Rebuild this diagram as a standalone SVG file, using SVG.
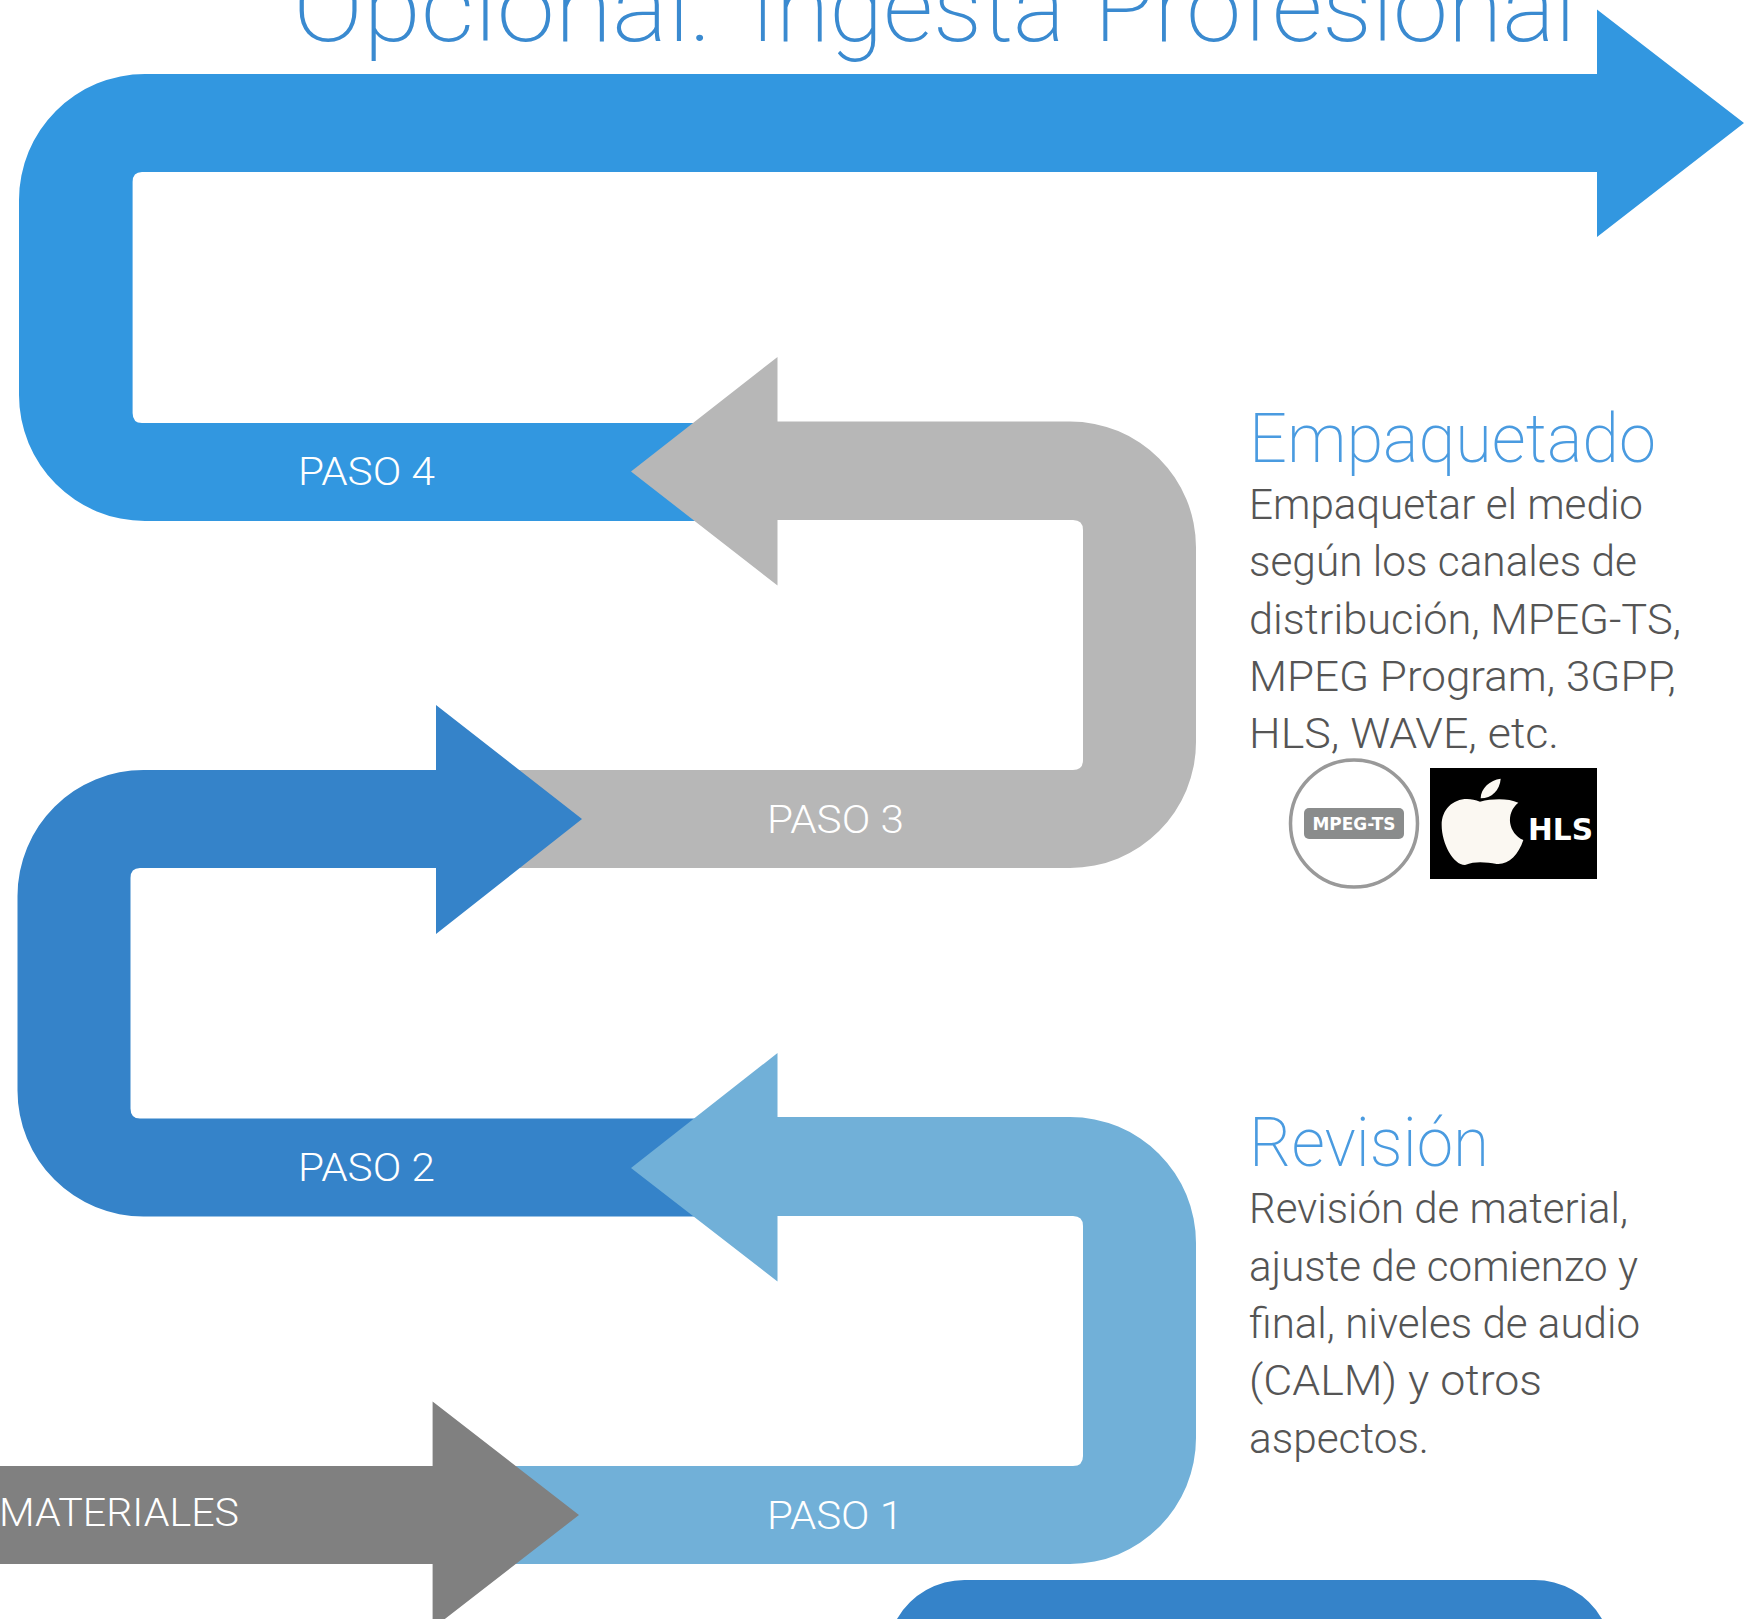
<svg xmlns="http://www.w3.org/2000/svg" width="1749" height="1619" viewBox="0 0 1749 1619">
<style>
text{font-family:"Roboto","Liberation Sans",Arial,sans-serif;font-weight:300}
.title{font-size:98px;fill:#3A8AD0;font-weight:200}
.head{font-size:68px;fill:#4A9BE0;font-weight:200}
.body{font-size:43px;fill:#555555}
.step{font-size:38px;fill:#FFFFFF}
.badge{font-family:"DejaVu Sans",sans-serif;font-weight:700;fill:#FFFFFF}
</style>
<rect width="1749" height="1619" fill="#FFFFFF"/>
<g id="title"><text class="title" y="41"><tspan x="293" textLength="417" lengthAdjust="spacingAndGlyphs">Opcional:</tspan> <tspan x="750" textLength="315" lengthAdjust="spacingAndGlyphs">Ingesta</tspan> <tspan x="1094" textLength="482" lengthAdjust="spacingAndGlyphs">Profesional</tspan></text></g>
<g id="paso4">
<path fill="#3297E0" d="M1597 74H145A126 126 0 0 0 19 200V395A126 126 0 0 0 145 521H720V423H142Q132.600 423 132.600 413V182Q132.600 172 142 172H1597V237L1744 123L1597 9.500Z"/>
<text class="step" x="298" y="485" textLength="137" lengthAdjust="spacingAndGlyphs">PASO 4</text>
</g>
<g id="paso3">
<path fill="#B7B7B7" d="M777.500 421.500H1070A126 126 0 0 1 1196 547.500V742A126 126 0 0 1 1070 868H500V770H1073Q1083 770 1083 760V530Q1083 520 1073 520H777.500V585.500L631 471.500L777.500 357Z"/>
<text class="step" x="767" y="833" textLength="137" lengthAdjust="spacingAndGlyphs">PASO 3</text>
</g>
<g id="paso2">
<path fill="#3583C9" d="M436 770H144A126 126 0 0 0 17.500 896V1090A126 126 0 0 0 144 1216.500H720V1118.500H140Q130.500 1118.500 130.500 1108.500V878Q130.500 868 140 868H436V934L582 819L436 705Z"/>
<text class="step" x="298" y="1181" textLength="137" lengthAdjust="spacingAndGlyphs">PASO 2</text>
</g>
<g id="paso1">
<path fill="#71B0D8" d="M777.500 1117H1070A126 126 0 0 1 1196 1243V1438A126 126 0 0 1 1070 1564H500V1466H1073Q1083 1466 1083 1456V1226Q1083 1216 1073 1216H777.500V1281.500L631 1168L777.500 1053Z"/>
<text class="step" x="767" y="1529" textLength="136" lengthAdjust="spacingAndGlyphs">PASO 1</text>
</g>
<g id="materiales">
<path fill="#808080" d="M0 1466H432.600V1401.500L579 1515L432.600 1628.500V1564H0Z"/>
<text class="step" x="-1" y="1525.500" textLength="240" lengthAdjust="spacingAndGlyphs">MATERIALES</text>
</g>
<g id="next-step"><path fill="#3583C9" d="M897 1619A78 78 0 0 1 966 1580H1532A78 78 0 0 1 1602 1619Z"/></g>
<g id="empaquetado">
<text class="head" x="1249" y="462" textLength="407" lengthAdjust="spacingAndGlyphs">Empaquetado</text>
<text class="body" x="1249" y="519" textLength="394" lengthAdjust="spacingAndGlyphs">Empaquetar el medio</text>
<text class="body" x="1249" y="576" textLength="388" lengthAdjust="spacingAndGlyphs">según los canales de</text>
<text class="body" x="1249" y="634" textLength="432" lengthAdjust="spacingAndGlyphs">distribución, MPEG-TS,</text>
<text class="body" x="1249" y="691" textLength="427" lengthAdjust="spacingAndGlyphs">MPEG Program, 3GPP,</text>
<text class="body" x="1249" y="748" textLength="310" lengthAdjust="spacingAndGlyphs">HLS, WAVE, etc.</text>
</g>
<g id="mpeg-ts-logo">
<circle cx="1354" cy="823.500" r="63.500" fill="#FFFFFF" stroke="#999999" stroke-width="3.500"/>
<rect x="1304" y="808" width="100" height="31" rx="5" fill="#8A8C8C"/>
<text class="badge" x="1354" y="830" font-size="18" text-anchor="middle" textLength="83" lengthAdjust="spacingAndGlyphs">MPEG-TS</text>
</g>
<g id="hls-logo">
<rect x="1430" y="768" width="167" height="111" fill="#000000"/>
<path fill="#FBF8F2" transform="translate(1230 730) scale(.33333)" d="M750 215C790 205 835 205 865 218C825 250 835 310 880 330C865 375 835 405 800 402C770 398 740 392 705 405C670 405 635 340 635 285C635 225 690 190 750 215Z"/>
<path fill="#FBF8F2" transform="translate(1230 730) scale(.33333)" d="M752 205C752 175 780 150 812 146C810 180 785 205 752 205Z"/>
<text class="badge" x="1528" y="840" font-size="30" textLength="65" lengthAdjust="spacingAndGlyphs">HLS</text>
</g>
<g id="revision">
<text class="head" x="1249" y="1166" textLength="240" lengthAdjust="spacingAndGlyphs">Revisión</text>
<text class="body" x="1249" y="1223" textLength="379" lengthAdjust="spacingAndGlyphs">Revisión de material,</text>
<text class="body" x="1249" y="1281" textLength="389" lengthAdjust="spacingAndGlyphs">ajuste de comienzo y</text>
<text class="body" x="1249" y="1338" textLength="391" lengthAdjust="spacingAndGlyphs">final, niveles de audio</text>
<text class="body" x="1249" y="1395" textLength="293" lengthAdjust="spacingAndGlyphs">(CALM) y otros</text>
<text class="body" x="1249" y="1453" textLength="180" lengthAdjust="spacingAndGlyphs">aspectos.</text>
</g>
</svg>
